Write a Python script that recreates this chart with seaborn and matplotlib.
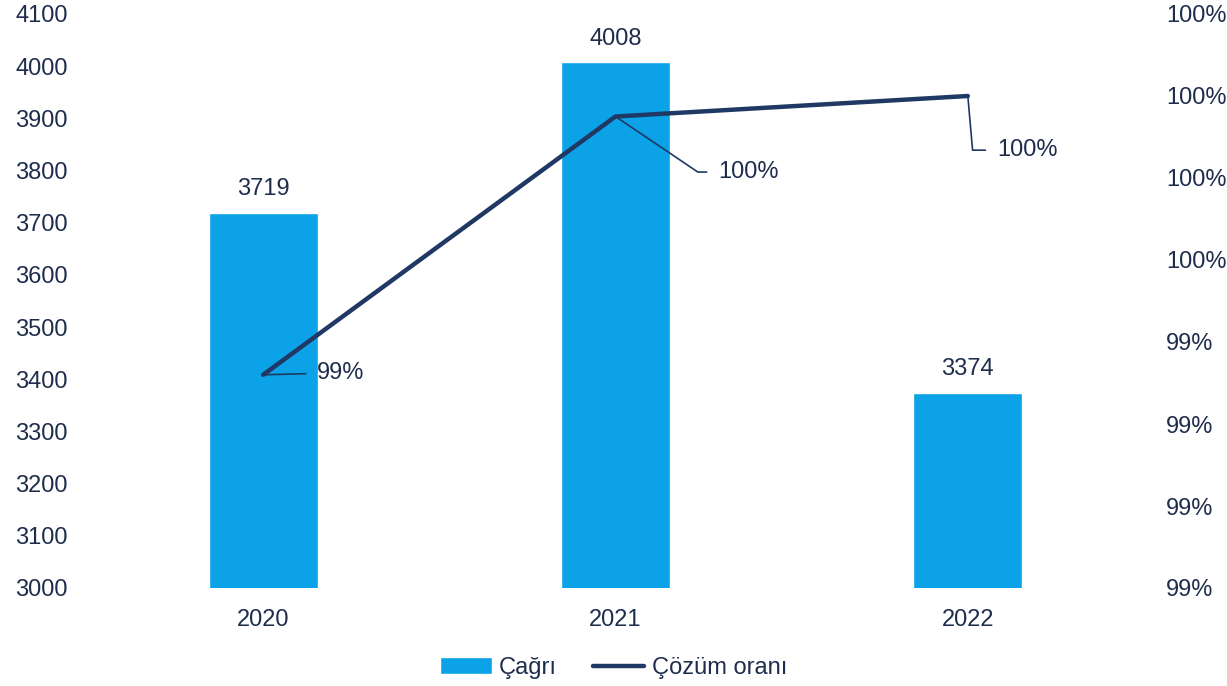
import matplotlib
matplotlib.use("Agg")
import matplotlib.pyplot as plt
import seaborn as sns
import pandas as pd
from matplotlib.ticker import FormatStrFormatter

# data
years = ["2020", "2021", "2022"]
calls = [3719, 4008, 3374]
solve_rate = [99.41, 99.725, 99.75]   # percent
left_ticks = [3000, 3100, 3200, 3300, 3400, 3500, 3600, 3700, 3800, 3900, 4000, 4100]
right_ticks = [99.15, 99.25, 99.35, 99.45, 99.55, 99.65, 99.75, 99.85]

bar_color = "#0ba2e8"
line_color = "#1f3864"
text_color = "#1f2d4d"
fs = 17

sns.set_theme(style="white")
plt.rcParams["font.family"] = ["Liberation Sans", "DejaVu Sans"]

df = pd.DataFrame({"year": years, "calls": calls, "rate": solve_rate})

fig = plt.figure(figsize=(12.27, 6.86), dpi=100)
ax = fig.add_axes([87 / 1227, 1 - 588 / 686, 1057 / 1227, 574 / 686])

sns.barplot(data=df, x="year", y="calls", color=bar_color, width=0.31,
            saturation=1, ax=ax, zorder=2)
ax.set_ylim(3000, 4100)
ax.set_xlim(-0.5, 2.5)
ax.set_yticks(left_ticks)
ax.set_xlabel("")
ax.set_ylabel("")
ax.tick_params(axis="y", labelsize=fs, labelcolor=text_color, pad=14, length=0)
ax.tick_params(axis="x", labelsize=fs, labelcolor=text_color, pad=15, length=0)
for s in ax.spines.values():
    s.set_visible(False)

for cont in ax.containers:
    ax.bar_label(cont, fmt="%d", padding=9, fontsize=fs, color=text_color)

ax2 = ax.twinx()
sns.lineplot(data=df, x="year", y="rate", color=line_color, linewidth=3.2,
             ax=ax2, sort=False)
ax2.set_ylim(99.15, 99.85)
ax2.set_yticks(right_ticks)
ax2.yaxis.set_major_formatter(FormatStrFormatter("%.0f%%"))
ax2.tick_params(axis="y", labelsize=fs, labelcolor=text_color, pad=16, length=0)
ax2.set_ylabel("")
for s in ax2.spines.values():
    s.set_visible(False)

# data labels with leader lines (offsets in points)
offsets = [(39, 1), (74, -40), (21, -39)]
styles = ["arc3,rad=0",
          "angle,angleA=0,angleB=-34,rad=0",
          "angle,angleA=0,angleB=-85,rad=0"]
for i, (v, off, cs) in enumerate(zip(solve_rate, offsets, styles)):
    ax2.annotate(f"{v:.0f}%", xy=(i, v), xytext=off, textcoords="offset points",
                 fontsize=fs, color=text_color, va="center", ha="left",
                 arrowprops=dict(arrowstyle="-", color=line_color, lw=1.2,
                                 connectionstyle=cs,
                                 shrinkA=6, shrinkB=0, relpos=(0, 0.5)))

bar_handle = ax.containers[0].patches[0]
line_handle = ax2.get_lines()[0]
fig.legend([bar_handle, line_handle], ["Çağrı", "Çözüm oranı"],
           loc="center", bbox_to_anchor=(0.5, 1 - 668 / 686), ncol=2,
           frameon=False, fontsize=fs, labelcolor=text_color,
           handlelength=2.2, handletextpad=0.3, columnspacing=1.5)

fig.savefig("out.png", dpi=100)
